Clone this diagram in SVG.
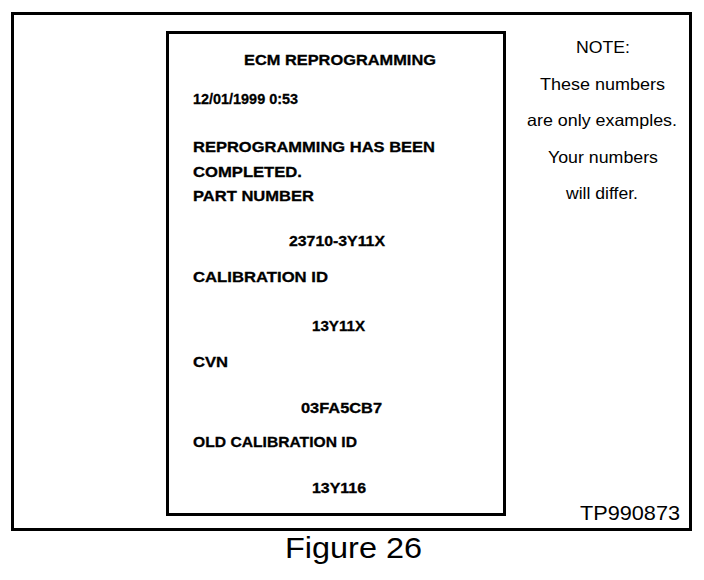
<svg xmlns="http://www.w3.org/2000/svg" width="704" height="580" viewBox="0 0 704 580">
<style>
.frame{fill:none;stroke:#000;stroke-width:3}
.b{font-family:"Liberation Sans",Arial,sans-serif;font-weight:bold;font-size:15px;fill:#000;stroke:#000;stroke-width:0.3}
.n{font-family:"Liberation Sans",Arial,sans-serif;font-size:16.5px;fill:#000;text-anchor:middle}
.l{font-family:"Liberation Sans",Arial,sans-serif;fill:#000}
</style>
<rect width="704" height="580" fill="#fff"/>
<g id="outer-frame">
<rect class="frame" x="12.5" y="13.5" width="678" height="516"/>
</g>
<g id="screen">
<rect class="frame" x="167.5" y="32.5" width="337" height="482"/>
<text class="b" x="244" y="65" textLength="192" lengthAdjust="spacingAndGlyphs">ECM REPROGRAMMING</text>
<text class="b" x="193" y="104" textLength="105" lengthAdjust="spacingAndGlyphs">12/01/1999 0:53</text>
<text class="b" x="193" y="152" textLength="242" lengthAdjust="spacingAndGlyphs">REPROGRAMMING HAS BEEN</text>
<text class="b" x="193" y="177" textLength="109" lengthAdjust="spacingAndGlyphs">COMPLETED.</text>
<text class="b" x="193" y="201" textLength="121" lengthAdjust="spacingAndGlyphs">PART NUMBER</text>
<text class="b" x="289" y="246" textLength="96" lengthAdjust="spacingAndGlyphs">23710-3Y11X</text>
<text class="b" x="193" y="282" textLength="135" lengthAdjust="spacingAndGlyphs">CALIBRATION ID</text>
<text class="b" x="312" y="331" textLength="53" lengthAdjust="spacingAndGlyphs">13Y11X</text>
<text class="b" x="193" y="367" textLength="35" lengthAdjust="spacingAndGlyphs">CVN</text>
<text class="b" x="301" y="413" textLength="81" lengthAdjust="spacingAndGlyphs">03FA5CB7</text>
<text class="b" x="193" y="447" textLength="164" lengthAdjust="spacingAndGlyphs">OLD CALIBRATION ID</text>
<text class="b" x="312" y="493" textLength="54" lengthAdjust="spacingAndGlyphs">13Y116</text>
</g>
<g id="note">
<text class="n" x="603" y="53" textLength="54" lengthAdjust="spacingAndGlyphs">NOTE:</text>
<text class="n" x="602.5" y="90" textLength="125" lengthAdjust="spacingAndGlyphs">These numbers</text>
<text class="n" x="602" y="126" textLength="150" lengthAdjust="spacingAndGlyphs">are only examples.</text>
<text class="n" x="603" y="163" textLength="110" lengthAdjust="spacingAndGlyphs">Your numbers</text>
<text class="n" x="602" y="199" textLength="72" lengthAdjust="spacingAndGlyphs">will differ.</text>
</g>
<g id="labels">
<text class="l" x="580" y="520" font-size="21" textLength="100" lengthAdjust="spacingAndGlyphs">TP990873</text>
<text class="l" x="285" y="558" font-size="30" textLength="137" lengthAdjust="spacingAndGlyphs">Figure 26</text>
</g>
</svg>
